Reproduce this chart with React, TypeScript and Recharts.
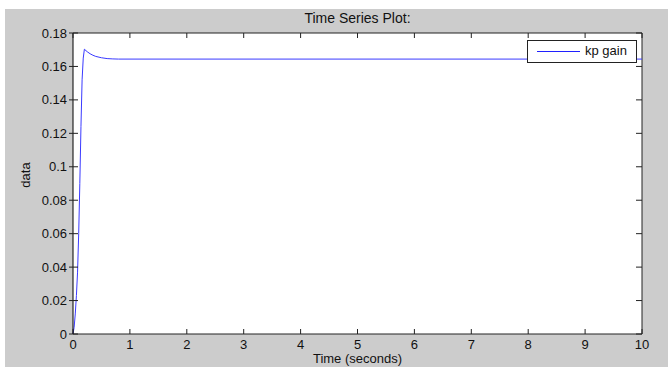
import { CartesianGrid, Line, LineChart, ReferenceLine, XAxis, YAxis } from 'recharts'

const TIME = [0, 0.02, 0.04, 0.06, 0.08, 0.1, 0.12, 0.14, 0.16, 0.18, 0.2, 0.25, 0.3, 0.35, 0.4, 0.5, 0.6, 0.7, 0.8, 10]
const KP_GAIN = [
  0, 0.004, 0.012, 0.023, 0.037, 0.06, 0.09, 0.124, 0.152, 0.165, 0.1703, 0.1688, 0.1676, 0.1667, 0.166, 0.1652,
  0.1647, 0.1645, 0.1644, 0.1644,
]
const X_TICKS = [0, 1, 2, 3, 4, 5, 6, 7, 8, 9, 10]
const Y_TICKS = [0, 0.02, 0.04, 0.06, 0.08, 0.1, 0.12, 0.14, 0.16, 0.18]
const Y_LABELS = ['0', '0.02', '0.04', '0.06', '0.08', '0.1', '0.12', '0.14', '0.16', '0.18']

const W = 668
const H = 367
const LEFT = 73
const RIGHT = 642
const TOP = 33
const BOTTOM = 334
const FONT = 'Arial, "Liberation Sans", sans-serif'

const data = TIME.map((t, i) => ({ t, v: KP_GAIN[i] }))

// MATLAB-style ticks: pointing into the plot, mirrored on top/right
function XTick(props: any) {
  const { x, payload } = props
  return (
    <g>
      <line x1={x} x2={x} y1={BOTTOM} y2={BOTTOM - 5} stroke="#222" />
      <line x1={x} x2={x} y1={TOP} y2={TOP + 5} stroke="#222" />
      <text x={x} y={349} textAnchor="middle" fontSize={13} fontFamily={FONT} fill="#111">
        {payload.value}
      </text>
    </g>
  )
}

function YTick(props: any) {
  const { y, payload } = props
  const idx = Y_TICKS.indexOf(payload.value)
  return (
    <g>
      <line x1={LEFT - 4} x2={LEFT + 5} y1={y} y2={y} stroke="#222" />
      <line x1={RIGHT} x2={RIGHT - 6} y1={y} y2={y} stroke="#222" />
      <text x={67} y={y + 4.5} textAnchor="end" fontSize={13} fontFamily={FONT} fill="#111">
        {idx >= 0 ? Y_LABELS[idx] : payload.value}
      </text>
    </g>
  )
}

export default function App() {
  return (
    <div style={{ position: 'absolute', left: 0, top: 0, width: W, height: H, background: '#fff' }}>
      <div style={{ position: 'absolute', left: 5, top: 9, width: W - 5, height: H - 9, background: '#cccccc' }} />
      <div style={{ position: 'absolute', left: 0, top: 0 }}>
        <LineChart width={W} height={H} data={data} margin={{ top: TOP, right: W - RIGHT, bottom: 0, left: 13 }}>
          <CartesianGrid fill="#ffffff" stroke="none" horizontal={false} vertical={false} />
          <XAxis
            dataKey="t"
            type="number"
            domain={[0, 10]}
            ticks={X_TICKS}
            height={H - BOTTOM}
            axisLine={{ stroke: '#222' }}
            tickLine={false}
            tick={<XTick />}
            interval={0}
          />
          <YAxis
            type="number"
            domain={[0, 0.18]}
            ticks={Y_TICKS}
            width={LEFT - 13}
            axisLine={{ stroke: '#000' }}
            tickLine={false}
            tick={<YTick />}
            interval={0}
          />
          <ReferenceLine y={0.18} stroke="#222" />
          <ReferenceLine x={10} stroke="#222" />
          <Line
            dataKey="v"
            type="linear"
            stroke="#3a3aff"
            strokeWidth={1}
            dot={false}
            isAnimationActive={false}
          />
        </LineChart>
      </div>
      <div
        style={{
          position: 'absolute',
          left: 0,
          top: 10,
          width: LEFT + RIGHT,
          textAlign: 'center',
          fontFamily: FONT,
          fontSize: 14,
          color: '#111',
        }}
      >
        Time Series Plot:
      </div>
      <div
        style={{
          position: 'absolute',
          left: 0,
          top: 352,
          width: LEFT + RIGHT,
          textAlign: 'center',
          fontFamily: FONT,
          fontSize: 13,
          lineHeight: '13px',
          color: '#111',
        }}
      >
        Time (seconds)
      </div>
      <div
        style={{
          position: 'absolute',
          left: 25,
          top: 175,
          transform: 'translate(-50%, -50%) rotate(-90deg)',
          fontFamily: FONT,
          fontSize: 13,
          color: '#111',
        }}
      >
        data
      </div>
      <div
        style={{
          position: 'absolute',
          left: 527,
          top: 40,
          width: 108,
          height: 21,
          background: '#fff',
          border: '1px solid #222',
          fontFamily: FONT,
          fontSize: 13,
          color: '#111',
        }}
      >
        <div style={{ position: 'absolute', left: 9, top: 10, width: 43, height: 1, background: '#2020ff' }} />
        <div style={{ position: 'absolute', left: 57, top: 2 }}>kp gain</div>
      </div>
    </div>
  )
}
